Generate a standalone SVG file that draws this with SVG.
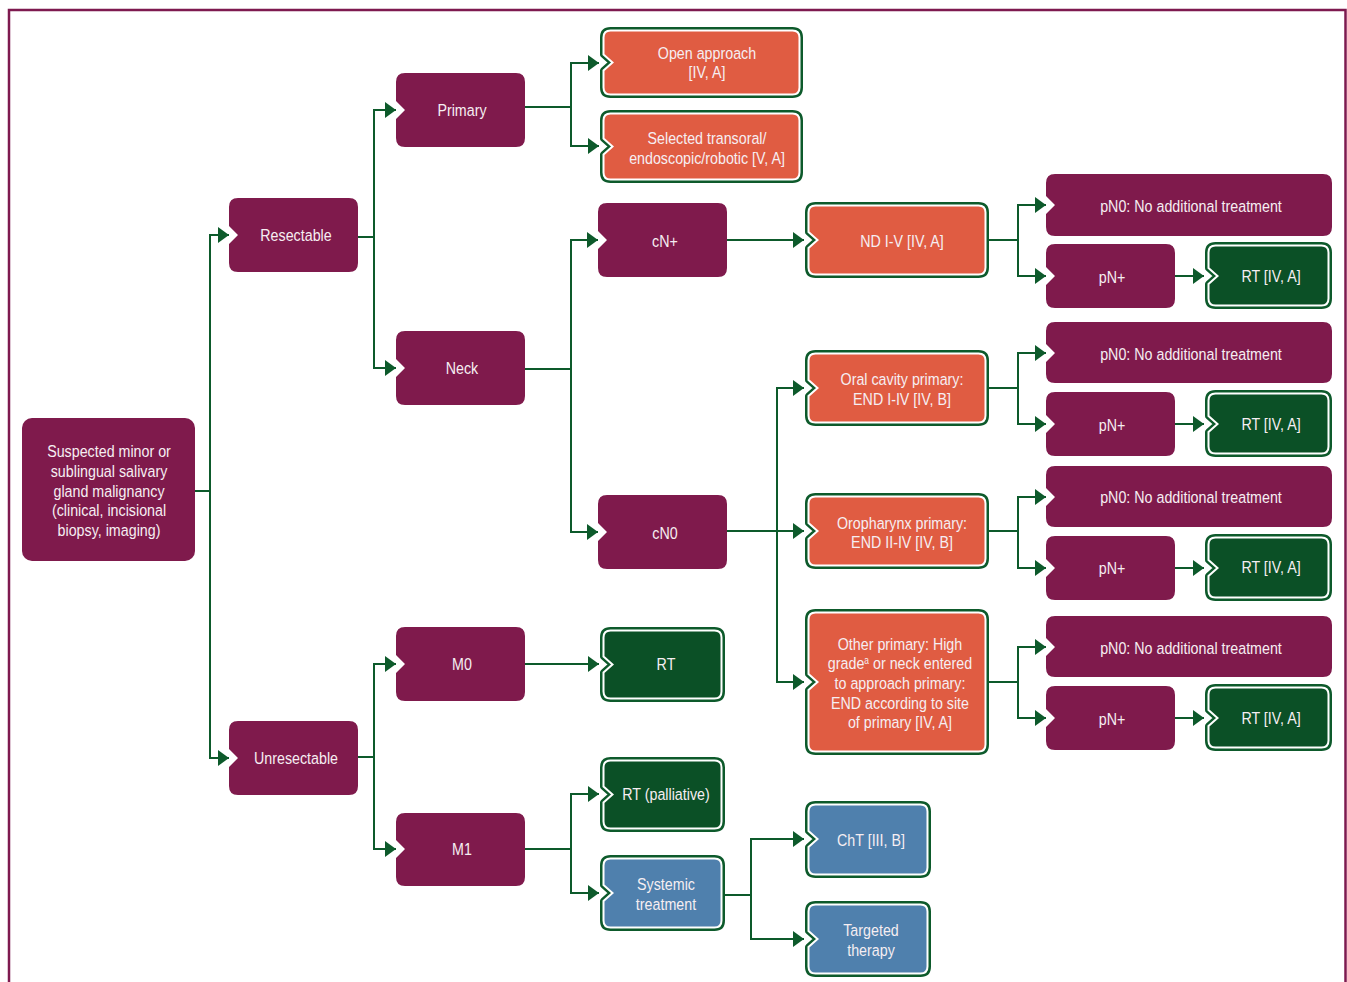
<svg xmlns="http://www.w3.org/2000/svg" width="1347" height="982" viewBox="0 0 1347 982">
<style>
.pu{fill:#7f1a4c}
.ring{fill:#0d5a2b;stroke:#0d5a2b;stroke-width:7;stroke-linejoin:round}
.or{fill:#e05c42;stroke:#ffffff;stroke-width:2}
.gr{fill:#0b5026;stroke:#ffffff;stroke-width:2}
.bl{fill:#4f80ad;stroke:#ffffff;stroke-width:2}
text{font-family:"Liberation Sans",Arial,sans-serif;font-size:17px;fill:#f6eef2;text-anchor:middle}
.c path{fill:none;stroke:#0d5a2b;stroke-width:2;marker-end:url(#ah)}
</style>
<defs>
<marker id="ah" markerUnits="userSpaceOnUse" markerWidth="12" markerHeight="16" refX="11" refY="8" orient="auto"><path d="M0,0 L11,8 L0,16 Z" fill="#0d5a2b"/></marker>
</defs>
<rect width="1347" height="982" fill="#ffffff"/>
<path d="M9,982 V10 H1345.5 V982" fill="none" stroke="#7e1a4f" stroke-width="2.5"/>

<g class="c" id="connectors">
<path d="M195,491 H210 V235 H229"/>
<path d="M210,491 V758 H229"/>
<path d="M358,237 H374 V110 H396"/>
<path d="M374,237 V368 H396"/>
<path d="M525,107 H571 V63 H599"/>
<path d="M571,107 V146 H599"/>
<path d="M525,369 H571 V240 H598"/>
<path d="M571,369 V532 H598"/>
<path d="M727,240 H804"/>
<path d="M727,531 H804"/>
<path d="M777,531 V388 H804"/>
<path d="M777,531 V682 H804"/>
<path d="M989,240 H1018 V205 H1046"/>
<path d="M1018,240 V276 H1046"/>
<path d="M989,388 H1018 V353 H1046"/>
<path d="M1018,388 V424 H1046"/>
<path d="M989,531 H1018 V497 H1046"/>
<path d="M1018,531 V568 H1046"/>
<path d="M989,682 H1018 V647 H1046"/>
<path d="M1018,682 V718 H1046"/>
<path d="M1175,276 H1204"/>
<path d="M1175,424 H1204"/>
<path d="M1175,568 H1204"/>
<path d="M1175,718 H1204"/>
<path d="M358,757 H374 V664 H396"/>
<path d="M374,757 V849 H396"/>
<path d="M525,664 H599"/>
<path d="M525,849 H571 V794 H599"/>
<path d="M571,849 V893 H599"/>
<path d="M725,895 H751 V839 H804"/>
<path d="M751,895 V939 H804"/>
</g>

<g id="n-root"><rect class="pu" x="22" y="418" width="173" height="143" rx="10"/>
<text transform="translate(109 0) scale(.84 1)" y="457">Suspected minor or</text><text transform="translate(109 0) scale(.84 1)" y="477">sublingual salivary</text><text transform="translate(109 0) scale(.84 1)" y="497">gland malignancy</text><text transform="translate(109 0) scale(.84 1)" y="516">(clinical, incisional</text><text transform="translate(109 0) scale(.84 1)" y="536">biopsy, imaging)</text></g>

<g id="n-resectable"><path class="pu" d="M238,198 H349 Q358,198 358,207 V263 Q358,272 349,272 H238 Q229,272 229,263 V244 L238,235 L229,226 V207 Q229,198 238,198 Z"/><text transform="translate(296 0) scale(.84 1)" y="241">Resectable</text></g>
<g id="n-unresectable"><path class="pu" d="M238,721 H349 Q358,721 358,730 V786 Q358,795 349,795 H238 Q229,795 229,786 V767 L238,758 L229,749 V730 Q229,721 238,721 Z"/><text transform="translate(296 0) scale(.84 1)" y="764">Unresectable</text></g>
<g id="n-primary"><path class="pu" d="M405,73 H516 Q525,73 525,82 V138 Q525,147 516,147 H405 Q396,147 396,138 V119 L405,110 L396,101 V82 Q396,73 405,73 Z"/><text transform="translate(462 0) scale(.84 1)" y="116">Primary</text></g>
<g id="n-neck"><path class="pu" d="M405,331 H516 Q525,331 525,340 V396 Q525,405 516,405 H405 Q396,405 396,396 V377 L405,368 L396,359 V340 Q396,331 405,331 Z"/><text transform="translate(462 0) scale(.84 1)" y="374">Neck</text></g>
<g id="n-m0"><path class="pu" d="M405,627 H516 Q525,627 525,636 V692 Q525,701 516,701 H405 Q396,701 396,692 V673 L405,664 L396,655 V636 Q396,627 405,627 Z"/><text transform="translate(462 0) scale(.84 1)" y="670">M0</text></g>
<g id="n-m1"><path class="pu" d="M405,813 H516 Q525,813 525,822 V877 Q525,886 516,886 H405 Q396,886 396,877 V858 L405,849 L396,840 V822 Q396,813 405,813 Z"/><text transform="translate(462 0) scale(.84 1)" y="855">M1</text></g>
<g id="n-cnplus"><path class="pu" d="M607,203 H718 Q727,203 727,212 V268 Q727,277 718,277 H607 Q598,277 598,268 V249 L607,240 L598,231 V212 Q598,203 607,203 Z"/><text transform="translate(665 0) scale(.84 1)" y="247">cN+</text></g>
<g id="n-cn0"><path class="pu" d="M607,495 H718 Q727,495 727,504 V560 Q727,569 718,569 H607 Q598,569 598,560 V541 L607,532 L598,523 V504 Q598,495 607,495 Z"/><text transform="translate(665 0) scale(.84 1)" y="539">cN0</text></g>

<g id="n-open"><path class="ring" d="M610.5,30.5 H792.5 Q799.5,30.5 799.5,37.5 V87.5 Q799.5,94.5 792.5,94.5 H610.5 Q603.5,94.5 603.5,87.5 V70.5 L612.5,62.5 L603.5,54.5 V37.5 Q603.5,30.5 610.5,30.5 Z"/><path class="or" d="M610.5,30.5 H792.5 Q799.5,30.5 799.5,37.5 V87.5 Q799.5,94.5 792.5,94.5 H610.5 Q603.5,94.5 603.5,87.5 V70.5 L612.5,62.5 L603.5,54.5 V37.5 Q603.5,30.5 610.5,30.5 Z"/><text transform="translate(707 0) scale(.84 1)" y="59">Open approach</text><text transform="translate(707 0) scale(.84 1)" y="78">[IV, A]</text></g>
<g id="n-selected"><path class="ring" d="M610.5,113.5 H792.5 Q799.5,113.5 799.5,120.5 V172.5 Q799.5,179.5 792.5,179.5 H610.5 Q603.5,179.5 603.5,172.5 V154.5 L612.5,146.5 L603.5,138.5 V120.5 Q603.5,113.5 610.5,113.5 Z"/><path class="or" d="M610.5,113.5 H792.5 Q799.5,113.5 799.5,120.5 V172.5 Q799.5,179.5 792.5,179.5 H610.5 Q603.5,179.5 603.5,172.5 V154.5 L612.5,146.5 L603.5,138.5 V120.5 Q603.5,113.5 610.5,113.5 Z"/><text transform="translate(707 0) scale(.84 1)" y="144">Selected transoral/</text><text transform="translate(707 0) scale(.84 1)" y="164">endoscopic/robotic [V, A]</text></g>
<g id="n-rt-m0"><path class="ring" d="M610.5,630.5 H714.5 Q721.5,630.5 721.5,637.5 V691.5 Q721.5,698.5 714.5,698.5 H610.5 Q603.5,698.5 603.5,691.5 V672.5 L612.5,664.5 L603.5,656.5 V637.5 Q603.5,630.5 610.5,630.5 Z"/><path class="gr" d="M610.5,630.5 H714.5 Q721.5,630.5 721.5,637.5 V691.5 Q721.5,698.5 714.5,698.5 H610.5 Q603.5,698.5 603.5,691.5 V672.5 L612.5,664.5 L603.5,656.5 V637.5 Q603.5,630.5 610.5,630.5 Z"/><text transform="translate(666 0) scale(.84 1)" y="670">RT</text></g>
<g id="n-rt-pal"><path class="ring" d="M610.5,760.5 H714.5 Q721.5,760.5 721.5,767.5 V821.5 Q721.5,828.5 714.5,828.5 H610.5 Q603.5,828.5 603.5,821.5 V802.5 L612.5,794.5 L603.5,786.5 V767.5 Q603.5,760.5 610.5,760.5 Z"/><path class="gr" d="M610.5,760.5 H714.5 Q721.5,760.5 721.5,767.5 V821.5 Q721.5,828.5 714.5,828.5 H610.5 Q603.5,828.5 603.5,821.5 V802.5 L612.5,794.5 L603.5,786.5 V767.5 Q603.5,760.5 610.5,760.5 Z"/><text transform="translate(666 0) scale(.84 1)" y="800">RT (palliative)</text></g>
<g id="n-systemic"><path class="ring" d="M610.5,858.5 H714.5 Q721.5,858.5 721.5,865.5 V920.5 Q721.5,927.5 714.5,927.5 H610.5 Q603.5,927.5 603.5,920.5 V901 L612.5,893 L603.5,885 V865.5 Q603.5,858.5 610.5,858.5 Z"/><path class="bl" d="M610.5,858.5 H714.5 Q721.5,858.5 721.5,865.5 V920.5 Q721.5,927.5 714.5,927.5 H610.5 Q603.5,927.5 603.5,920.5 V901 L612.5,893 L603.5,885 V865.5 Q603.5,858.5 610.5,858.5 Z"/><text transform="translate(666 0) scale(.84 1)" y="890">Systemic</text><text transform="translate(666 0) scale(.84 1)" y="910">treatment</text></g>

<g id="n-nd"><path class="ring" d="M815.5,205.5 H978.5 Q985.5,205.5 985.5,212.5 V267.5 Q985.5,274.5 978.5,274.5 H815.5 Q808.5,274.5 808.5,267.5 V248 L817.5,240 L808.5,232 V212.5 Q808.5,205.5 815.5,205.5 Z"/><path class="or" d="M815.5,205.5 H978.5 Q985.5,205.5 985.5,212.5 V267.5 Q985.5,274.5 978.5,274.5 H815.5 Q808.5,274.5 808.5,267.5 V248 L817.5,240 L808.5,232 V212.5 Q808.5,205.5 815.5,205.5 Z"/><text transform="translate(902 0) scale(.84 1)" y="247">ND I-V [IV, A]</text></g>
<g id="n-oral"><path class="ring" d="M815.5,353.5 H978.5 Q985.5,353.5 985.5,360.5 V415.5 Q985.5,422.5 978.5,422.5 H815.5 Q808.5,422.5 808.5,415.5 V396 L817.5,388 L808.5,380 V360.5 Q808.5,353.5 815.5,353.5 Z"/><path class="or" d="M815.5,353.5 H978.5 Q985.5,353.5 985.5,360.5 V415.5 Q985.5,422.5 978.5,422.5 H815.5 Q808.5,422.5 808.5,415.5 V396 L817.5,388 L808.5,380 V360.5 Q808.5,353.5 815.5,353.5 Z"/><text transform="translate(902 0) scale(.84 1)" y="385">Oral cavity primary:</text><text transform="translate(902 0) scale(.84 1)" y="405">END I-IV [IV, B]</text></g>
<g id="n-oro"><path class="ring" d="M815.5,496.5 H978.5 Q985.5,496.5 985.5,503.5 V558.5 Q985.5,565.5 978.5,565.5 H815.5 Q808.5,565.5 808.5,558.5 V539 L817.5,531 L808.5,523 V503.5 Q808.5,496.5 815.5,496.5 Z"/><path class="or" d="M815.5,496.5 H978.5 Q985.5,496.5 985.5,503.5 V558.5 Q985.5,565.5 978.5,565.5 H815.5 Q808.5,565.5 808.5,558.5 V539 L817.5,531 L808.5,523 V503.5 Q808.5,496.5 815.5,496.5 Z"/><text transform="translate(902 0) scale(.84 1)" y="529">Oropharynx primary:</text><text transform="translate(902 0) scale(.84 1)" y="548">END II-IV [IV, B]</text></g>
<g id="n-other"><path class="ring" d="M815.5,612.5 H978.5 Q985.5,612.5 985.5,619.5 V744.5 Q985.5,751.5 978.5,751.5 H815.5 Q808.5,751.5 808.5,744.5 V690 L817.5,682 L808.5,674 V619.5 Q808.5,612.5 815.5,612.5 Z"/><path class="or" d="M815.5,612.5 H978.5 Q985.5,612.5 985.5,619.5 V744.5 Q985.5,751.5 978.5,751.5 H815.5 Q808.5,751.5 808.5,744.5 V690 L817.5,682 L808.5,674 V619.5 Q808.5,612.5 815.5,612.5 Z"/><text transform="translate(900 0) scale(.84 1)" y="650">Other primary: High</text><text transform="translate(900 0) scale(.84 1)" y="669">grade<tspan font-size="10" dy="-5">a</tspan><tspan dy="5"> or neck entered</tspan></text><text transform="translate(900 0) scale(.84 1)" y="689">to approach primary:</text><text transform="translate(900 0) scale(.84 1)" y="709">END according to site</text><text transform="translate(900 0) scale(.84 1)" y="728">of primary [IV, A]</text></g>
<g id="n-cht"><path class="ring" d="M815.5,804.5 H920.5 Q927.5,804.5 927.5,811.5 V867.5 Q927.5,874.5 920.5,874.5 H815.5 Q808.5,874.5 808.5,867.5 V847 L817.5,839 L808.5,831 V811.5 Q808.5,804.5 815.5,804.5 Z"/><path class="bl" d="M815.5,804.5 H920.5 Q927.5,804.5 927.5,811.5 V867.5 Q927.5,874.5 920.5,874.5 H815.5 Q808.5,874.5 808.5,867.5 V847 L817.5,839 L808.5,831 V811.5 Q808.5,804.5 815.5,804.5 Z"/><text transform="translate(871 0) scale(.84 1)" y="846">ChT [III, B]</text></g>
<g id="n-targeted"><path class="ring" d="M815.5,904.5 H920.5 Q927.5,904.5 927.5,911.5 V966.5 Q927.5,973.5 920.5,973.5 H815.5 Q808.5,973.5 808.5,966.5 V947 L817.5,939 L808.5,931 V911.5 Q808.5,904.5 815.5,904.5 Z"/><path class="bl" d="M815.5,904.5 H920.5 Q927.5,904.5 927.5,911.5 V966.5 Q927.5,973.5 920.5,973.5 H815.5 Q808.5,973.5 808.5,966.5 V947 L817.5,939 L808.5,931 V911.5 Q808.5,904.5 815.5,904.5 Z"/><text transform="translate(871 0) scale(.84 1)" y="936">Targeted</text><text transform="translate(871 0) scale(.84 1)" y="956">therapy</text></g>

<g id="n-pn0-a"><path class="pu" d="M1055,174 H1323 Q1332,174 1332,183 V227 Q1332,236 1323,236 H1055 Q1046,236 1046,227 V214 L1055,205 L1046,196 V183 Q1046,174 1055,174 Z"/><text transform="translate(1191 0) scale(.84 1)" y="212">pN0: No additional treatment</text></g>
<g id="n-pn0-b"><path class="pu" d="M1055,322 H1323 Q1332,322 1332,331 V374 Q1332,383 1323,383 H1055 Q1046,383 1046,374 V362 L1055,353 L1046,344 V331 Q1046,322 1055,322 Z"/><text transform="translate(1191 0) scale(.84 1)" y="360">pN0: No additional treatment</text></g>
<g id="n-pn0-c"><path class="pu" d="M1055,466 H1323 Q1332,466 1332,475 V518 Q1332,527 1323,527 H1055 Q1046,527 1046,518 V506 L1055,497 L1046,488 V475 Q1046,466 1055,466 Z"/><text transform="translate(1191 0) scale(.84 1)" y="503">pN0: No additional treatment</text></g>
<g id="n-pn0-d"><path class="pu" d="M1055,616 H1323 Q1332,616 1332,625 V668 Q1332,677 1323,677 H1055 Q1046,677 1046,668 V656 L1055,647 L1046,638 V625 Q1046,616 1055,616 Z"/><text transform="translate(1191 0) scale(.84 1)" y="654">pN0: No additional treatment</text></g>

<g id="n-pnp-a"><path class="pu" d="M1055,244 H1166 Q1175,244 1175,253 V299 Q1175,308 1166,308 H1055 Q1046,308 1046,299 V285 L1055,276 L1046,267 V253 Q1046,244 1055,244 Z"/><text transform="translate(1112 0) scale(.84 1)" y="283">pN+</text></g>
<g id="n-pnp-b"><path class="pu" d="M1055,392 H1166 Q1175,392 1175,401 V447 Q1175,456 1166,456 H1055 Q1046,456 1046,447 V433 L1055,424 L1046,415 V401 Q1046,392 1055,392 Z"/><text transform="translate(1112 0) scale(.84 1)" y="431">pN+</text></g>
<g id="n-pnp-c"><path class="pu" d="M1055,536 H1166 Q1175,536 1175,545 V591 Q1175,600 1166,600 H1055 Q1046,600 1046,591 V577 L1055,568 L1046,559 V545 Q1046,536 1055,536 Z"/><text transform="translate(1112 0) scale(.84 1)" y="574">pN+</text></g>
<g id="n-pnp-d"><path class="pu" d="M1055,686 H1166 Q1175,686 1175,695 V741 Q1175,750 1166,750 H1055 Q1046,750 1046,741 V727 L1055,718 L1046,709 V695 Q1046,686 1055,686 Z"/><text transform="translate(1112 0) scale(.84 1)" y="725">pN+</text></g>

<g id="n-rt-a"><path class="ring" d="M1215.5,245.5 H1321.5 Q1328.5,245.5 1328.5,252.5 V298.5 Q1328.5,305.5 1321.5,305.5 H1215.5 Q1208.5,305.5 1208.5,298.5 V284 L1217.5,276 L1208.5,268 V252.5 Q1208.5,245.5 1215.5,245.5 Z"/><path class="gr" d="M1215.5,245.5 H1321.5 Q1328.5,245.5 1328.5,252.5 V298.5 Q1328.5,305.5 1321.5,305.5 H1215.5 Q1208.5,305.5 1208.5,298.5 V284 L1217.5,276 L1208.5,268 V252.5 Q1208.5,245.5 1215.5,245.5 Z"/><text transform="translate(1271 0) scale(.84 1)" y="282">RT [IV, A]</text></g>
<g id="n-rt-b"><path class="ring" d="M1215.5,393.5 H1321.5 Q1328.5,393.5 1328.5,400.5 V446.5 Q1328.5,453.5 1321.5,453.5 H1215.5 Q1208.5,453.5 1208.5,446.5 V432 L1217.5,424 L1208.5,416 V400.5 Q1208.5,393.5 1215.5,393.5 Z"/><path class="gr" d="M1215.5,393.5 H1321.5 Q1328.5,393.5 1328.5,400.5 V446.5 Q1328.5,453.5 1321.5,453.5 H1215.5 Q1208.5,453.5 1208.5,446.5 V432 L1217.5,424 L1208.5,416 V400.5 Q1208.5,393.5 1215.5,393.5 Z"/><text transform="translate(1271 0) scale(.84 1)" y="430">RT [IV, A]</text></g>
<g id="n-rt-c"><path class="ring" d="M1215.5,537.5 H1321.5 Q1328.5,537.5 1328.5,544.5 V590.5 Q1328.5,597.5 1321.5,597.5 H1215.5 Q1208.5,597.5 1208.5,590.5 V576 L1217.5,568 L1208.5,560 V544.5 Q1208.5,537.5 1215.5,537.5 Z"/><path class="gr" d="M1215.5,537.5 H1321.5 Q1328.5,537.5 1328.5,544.5 V590.5 Q1328.5,597.5 1321.5,597.5 H1215.5 Q1208.5,597.5 1208.5,590.5 V576 L1217.5,568 L1208.5,560 V544.5 Q1208.5,537.5 1215.5,537.5 Z"/><text transform="translate(1271 0) scale(.84 1)" y="573">RT [IV, A]</text></g>
<g id="n-rt-d"><path class="ring" d="M1215.5,687.5 H1321.5 Q1328.5,687.5 1328.5,694.5 V740.5 Q1328.5,747.5 1321.5,747.5 H1215.5 Q1208.5,747.5 1208.5,740.5 V726 L1217.5,718 L1208.5,710 V694.5 Q1208.5,687.5 1215.5,687.5 Z"/><path class="gr" d="M1215.5,687.5 H1321.5 Q1328.5,687.5 1328.5,694.5 V740.5 Q1328.5,747.5 1321.5,747.5 H1215.5 Q1208.5,747.5 1208.5,740.5 V726 L1217.5,718 L1208.5,710 V694.5 Q1208.5,687.5 1215.5,687.5 Z"/><text transform="translate(1271 0) scale(.84 1)" y="724">RT [IV, A]</text></g>
</svg>
